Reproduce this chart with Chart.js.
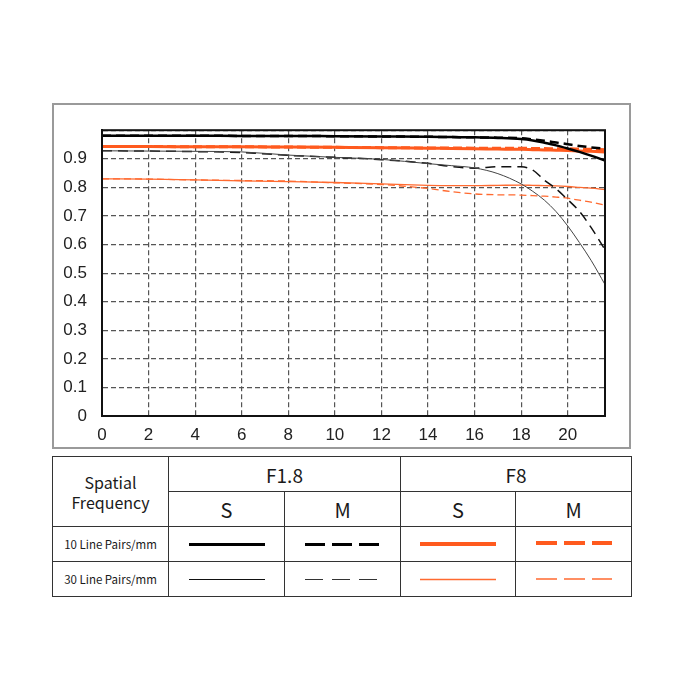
<!DOCTYPE html>
<html>
<head>
<meta charset="utf-8">
<script src="https://cdn.jsdelivr.net/npm/chart.js@4.4.1/dist/chart.umd.min.js"></script>
<style>
body { margin: 0; background: #fff; font-family: "Noto Sans CJK SC", "Noto Sans", sans-serif; }
#box { position: absolute; left: 52px; top: 103px; width: 579px; height: 346px; border: 2px solid #9a9a9a; box-sizing: border-box; }
#box canvas { position: absolute; left: 0; top: 0; }
table { position: absolute; left: 52px; top: 456px; width: 579px; border-collapse: collapse; table-layout: fixed; color: #1a1a1a; }
td { border: 1.5px solid #333; text-align: center; padding: 0; }
.hd { font-size: 19px; height: 34px; }
.sm { font-size: 20px; height: 34px; }
.row { font-size: 11.5px; height: 34px; }
td svg { display: block; margin: 0 auto; }
</style>
</head>
<body>
<div id="box"><canvas id="mtf" width="575" height="342"></canvas></div>

<table>
  <colgroup><col style="width:116px"><col style="width:116px"><col style="width:116px"><col style="width:115px"><col style="width:116px"></colgroup>
  <tr><td rowspan="2" style="font-size:16px;line-height:20px">Spatial<br>Frequency</td><td colspan="2" class="hd">F1.8</td><td colspan="2" class="hd">F8</td></tr>
  <tr><td class="sm">S</td><td class="sm">M</td><td class="sm">S</td><td class="sm">M</td></tr>
  <tr>
    <td class="row">10 Line Pairs/mm</td>
    <td><svg width="78" height="8"><line x1="1" y1="4.5" x2="77" y2="4.5" stroke="#000" stroke-width="3"/></svg></td>
    <td><svg width="78" height="8"><line x1="1" y1="4.5" x2="77" y2="4.5" stroke="#000" stroke-width="3" stroke-dasharray="20,7"/></svg></td>
    <td><svg width="78" height="8"><line x1="1" y1="4" x2="77" y2="4" stroke="#ff5a1e" stroke-width="4"/></svg></td>
    <td><svg width="78" height="8"><line x1="1" y1="3" x2="77" y2="3" stroke="#ff5a1e" stroke-width="4" stroke-dasharray="21,7"/></svg></td>
  </tr>
  <tr>
    <td class="row">30 Line Pairs/mm</td>
    <td><svg width="78" height="8"><line x1="1" y1="4.5" x2="77" y2="4.5" stroke="#111" stroke-width="1"/></svg></td>
    <td><svg width="78" height="8"><line x1="1" y1="4.5" x2="77" y2="4.5" stroke="#333" stroke-width="1" stroke-dasharray="18,9"/></svg></td>
    <td><svg width="78" height="8"><line x1="1" y1="4.5" x2="77" y2="4.5" stroke="#ff6a30" stroke-width="1.5"/></svg></td>
    <td><svg width="78" height="8"><line x1="1" y1="4" x2="77" y2="4" stroke="#ff6a30" stroke-width="1.5" stroke-dasharray="21,7"/></svg></td>
  </tr>
</table>

<script>
// frecuencias (mm desde el centro) y valores MTF
const distancias = [0, 2, 4, 6, 8, 10, 12, 14, 15, 16, 17, 18, 18.5, 19, 19.5, 20, 20.5, 21, 21.6];
const f18_S10 = [0.981, 0.981, 0.981, 0.980, 0.980, 0.979, 0.978, 0.977, 0.976, 0.975, 0.973, 0.969, 0.964, 0.956, 0.947, 0.936, 0.924, 0.911, 0.894];
const f18_M10 = [0.981, 0.981, 0.981, 0.980, 0.980, 0.979, 0.978, 0.977, 0.976, 0.975, 0.974, 0.972, 0.968, 0.963, 0.957, 0.951, 0.945, 0.940, 0.935];
const f18_S30 = [0.928, 0.927, 0.926, 0.924, 0.913, 0.905, 0.898, 0.883, 0.876, 0.868, 0.848, 0.812, 0.786, 0.755, 0.715, 0.665, 0.607, 0.545, 0.460];
const f18_M30 = [0.928, 0.927, 0.925, 0.922, 0.912, 0.905, 0.897, 0.884, 0.873, 0.867, 0.872, 0.872, 0.860, 0.825, 0.795, 0.757, 0.716, 0.660, 0.582];
const f8_S10 = [0.943, 0.943, 0.942, 0.942, 0.941, 0.940, 0.939, 0.937, 0.936, 0.935, 0.934, 0.933, 0.932, 0.931, 0.930, 0.929, 0.927, 0.926, 0.924];
const f8_M10 = [0.943, 0.943, 0.942, 0.942, 0.941, 0.940, 0.939, 0.938, 0.938, 0.937, 0.937, 0.937, 0.936, 0.936, 0.935, 0.935, 0.934, 0.933, 0.932];
const f8_S30 = [0.830, 0.829, 0.826, 0.823, 0.820, 0.817, 0.812, 0.807, 0.806, 0.806, 0.807, 0.808, 0.807, 0.806, 0.805, 0.803, 0.800, 0.797, 0.792];
const f8_M30 = [0.830, 0.829, 0.826, 0.824, 0.822, 0.816, 0.810, 0.796, 0.785, 0.777, 0.774, 0.773, 0.771, 0.769, 0.766, 0.762, 0.755, 0.748, 0.738];
const xTicks = [0, 2, 4, 6, 8, 10, 12, 14, 16, 18, 20];
const yTicks = [0, 0.1, 0.2, 0.3, 0.4, 0.5, 0.6, 0.7, 0.8, 0.9, 1.0];

const NARANJA = '#ff5a1e';
const NARANJA_FINO = '#ff6a30';

function serie(valores, color, ancho, dash) {
    return {
        data: distancias.map((d, i) => ({ x: d, y: valores[i] })),
        borderColor: color,
        borderWidth: ancho,
        borderDash: dash || [],
        pointRadius: 0,
        fill: false,
        cubicInterpolationMode: 'monotone'
    };
}

// marco negro alrededor del area del grafico
const marco = {
    id: 'marco',
    afterDraw: (chart) => {
        const a = chart.chartArea;
        const ctx = chart.ctx;
        ctx.save();
        ctx.strokeStyle = '#111';
        ctx.lineWidth = 2;
        ctx.setLineDash([]);
        ctx.strokeRect(a.left, a.top, a.right - a.left, a.bottom - a.top);
        ctx.restore();
    }
};

new Chart(document.getElementById('mtf'), {
    type: 'line',
    data: {
        datasets: [
            serie(f18_S10, '#000', 2.5),
            serie(f18_M10, '#000', 2.5, [9, 5]),
            serie(f8_S10, NARANJA, 3),
            serie(f8_M10, NARANJA, 3, [9, 4]),
            serie(f18_S30, '#444', 1),
            serie(f18_M30, '#111', 1.5, [10, 6]),
            serie(f8_S30, NARANJA_FINO, 1.3),
            serie(f8_M30, NARANJA_FINO, 1.3, [7, 4])
        ]
    },
    options: {
        responsive: false,
        animation: false,
        layout: { padding: { top: 18, right: 24, left: 0, bottom: 0 } },
        plugins: { legend: { display: false }, tooltip: { enabled: false } },
        scales: {
            x: {
                type: 'linear', min: 0, max: 21.6,
                afterBuildTicks: (s) => { s.ticks = xTicks.map(v => ({ value: v })); },
                afterFit: (s) => { s.height = 31; },
                grid: { color: '#555', lineWidth: 1.2, drawTicks: false },
                border: { color: '#111', width: 2, dash: [5, 3] },
                ticks: { color: '#222', padding: 9, font: { family: 'Liberation Sans', size: 17 }, maxRotation: 0 }
            },
            y: {
                min: 0, max: 1,
                afterBuildTicks: (s) => { s.ticks = yTicks.map(v => ({ value: v })); },
                afterFit: (s) => { s.width = 48; },
                grid: { color: '#555', lineWidth: 1.2, drawTicks: false },
                border: { color: '#111', width: 2, dash: [5, 3] },
                ticks: {
                    color: '#222', padding: 15, font: { family: 'Liberation Sans', size: 17 },
                    callback: (v) => v >= 1 ? '' : (v === 0 ? '0' : v.toFixed(1))
                }
            }
        }
    },
    plugins: [marco]
});
</script>
</body>
</html>
